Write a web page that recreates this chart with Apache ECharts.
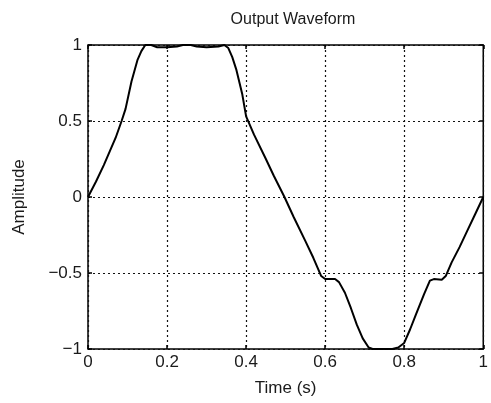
<!DOCTYPE html>
<html>
<head>
<meta charset="utf-8">
<script src="https://cdn.jsdelivr.net/npm/echarts@6/dist/echarts.min.js"></script>
<style>
html,body{margin:0;padding:0;background:#fff;}
#chart{width:491px;height:403px;}
</style>
</head>
<body>
<div id="chart"></div>
<script>
const timeS = [0.00,0.02,0.04,0.055,0.07,0.085,0.095,0.11,0.125,0.135,0.145,0.16,0.175,0.20,0.225,0.24,0.26,0.275,0.30,0.33,0.345,0.355,0.365,0.375,0.39,0.40,0.42,0.45,0.47,0.497,0.52,0.55,0.57,0.59,0.60,0.625,0.635,0.65,0.665,0.68,0.695,0.71,0.72,0.77,0.785,0.80,0.815,0.83,0.85,0.865,0.875,0.895,0.905,0.92,0.94,0.96,0.98,1.00];
const amplitude = [0.00,0.10,0.21,0.30,0.39,0.50,0.58,0.76,0.90,0.96,1.00,1.00,0.985,0.985,0.99,1.00,1.00,0.99,0.985,0.99,1.00,0.98,0.92,0.84,0.68,0.53,0.41,0.25,0.14,0.00,-0.13,-0.29,-0.40,-0.52,-0.54,-0.54,-0.56,-0.63,-0.73,-0.84,-0.93,-0.99,-1.00,-1.00,-0.99,-0.96,-0.87,-0.77,-0.64,-0.55,-0.54,-0.545,-0.52,-0.43,-0.33,-0.22,-0.11,0.00];
const xTicks = [0,0.2,0.4,0.6,0.8,1];
const yTicks = [-1,-0.5,0,0.5,1];

const FONT = 'Liberation Sans, Arial, Helvetica, sans-serif';
const TXT = '#1a1a1a';
const fmt = v => String(v).replace('-', '\u2212');
const grid = {show:true, left:88, right:4, top:45, bottom:54, borderColor:'#000', borderWidth:1.5, backgroundColor:'#fff'};
const splitStyle = {show:true, lineStyle:{color:'#111', width:1.2, type:[2,3]}};
const tick = {show:true, inside:true, length:4, lineStyle:{color:'#000', width:1.5}};

const chart = echarts.init(document.getElementById('chart'), null, {renderer:'canvas'});
chart.setOption({
  animation:false,
  backgroundColor:'#fff',
  title:{text:'Output Waveform', left:288, top:7, textAlign:'center',
    textStyle:{fontFamily:FONT, fontSize:16, fontWeight:'normal', color:TXT}},
  grid: grid,
  xAxis:[{
    type:'value', min:0, max:1, interval:0.2,
    name:'Time (s)', nameLocation:'middle', nameGap:31,
    nameTextStyle:{fontFamily:FONT, fontSize:17, color:TXT},
    axisLine:{show:false, onZero:false},
    axisTick:tick,
    axisLabel:{fontFamily:FONT, fontSize:17, color:TXT, margin:5, formatter:fmt},
    splitLine:splitStyle
  },{
    type:'value', min:0, max:1, interval:0.2, position:'top',
    axisLine:{show:false, onZero:false}, axisLabel:{show:false},
    axisTick:tick,
    splitLine:{show:false}
  }],
  yAxis:[{
    type:'value', min:-1, max:1, interval:0.5,
    name:'Amplitude', nameLocation:'middle', nameGap:60, nameRotate:90,
    nameTextStyle:{fontFamily:FONT, fontSize:17, color:TXT},
    axisLine:{show:false, onZero:false},
    axisTick:tick,
    axisLabel:{fontFamily:FONT, fontSize:17, color:TXT, margin:6, formatter:fmt},
    splitLine:splitStyle
  },{
    type:'value', min:-1, max:1, interval:0.5, position:'right',
    axisLine:{show:false, onZero:false}, axisLabel:{show:false},
    axisTick:tick,
    splitLine:{show:false}
  }],
  series:[{
    type:'line', xAxisIndex:0, yAxisIndex:0,
    data: timeS.map((t,i)=>[t, amplitude[i]]),
    showSymbol:false, symbol:'none',
    lineStyle:{color:'#000', width:2},
    z:5
  }]
});
</script>
</body>
</html>
